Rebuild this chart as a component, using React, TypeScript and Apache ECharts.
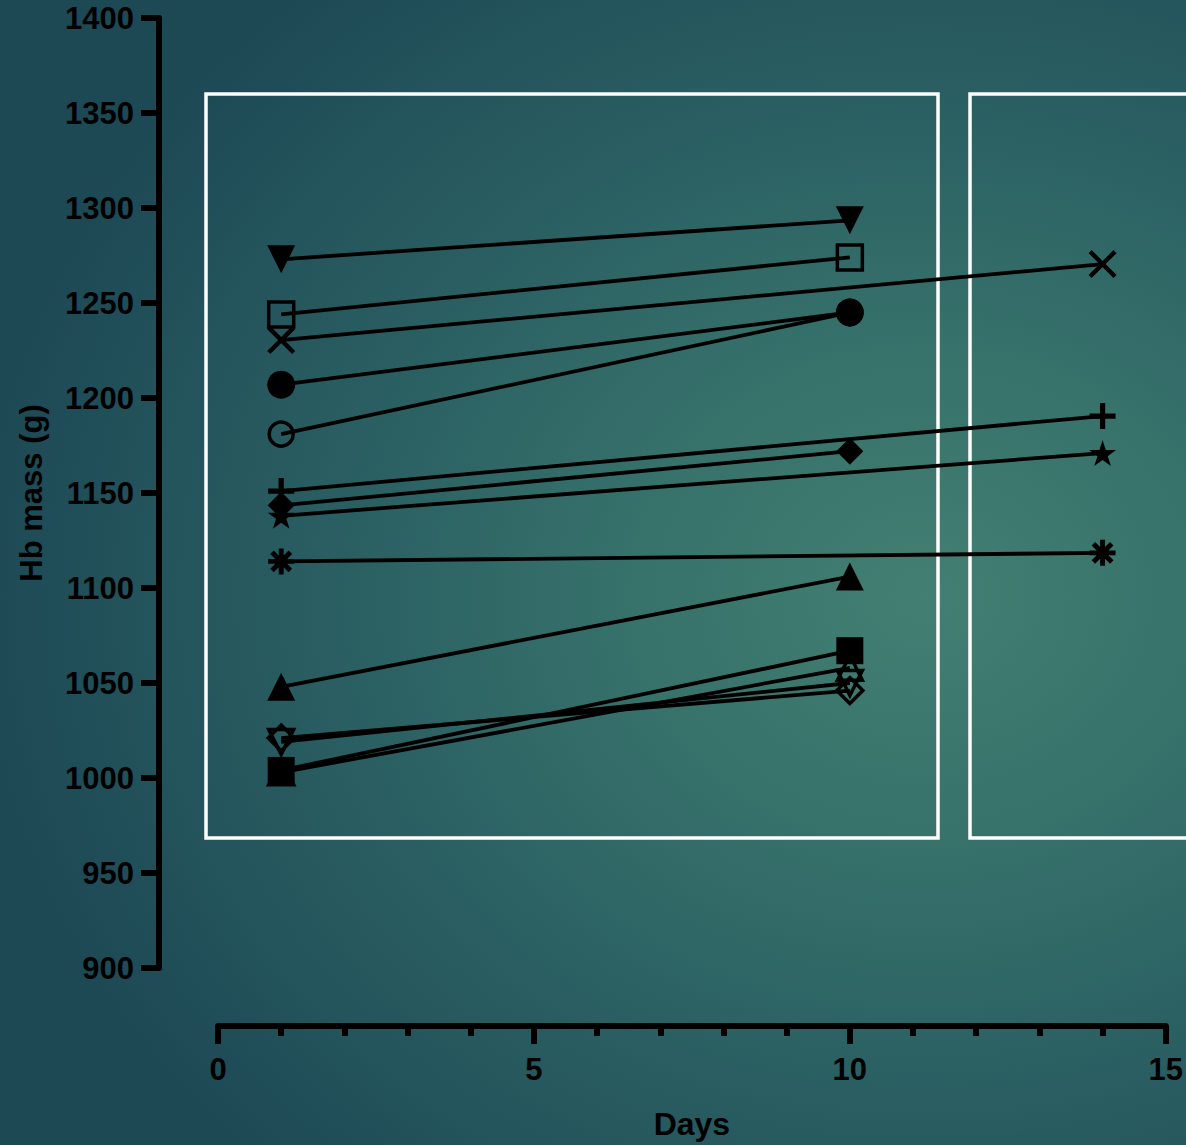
import React, { useEffect, useRef } from "react";
import * as echarts from "echarts";

// ---- data (Days, Hb mass g) ----
const xTicks = [0, 5, 10, 15];
const yTicks = [900, 950, 1000, 1050, 1100, 1150, 1200, 1250, 1300, 1350, 1400];

const downTriFilled = [[1, 1273], [10, 1293.5]];
const squareOpen = [[1, 1244], [10, 1274]];
const crossX = [[1, 1230.5], [14, 1270.5]];
const circleFilled = [[1, 1207], [10, 1245]];
const circleOpen = [[1, 1181], [10, 1245]];
const plusSym = [[1, 1151], [14, 1190.5]];
const diamondFilled = [[1, 1143.5], [10, 1172]];
const starSym = [[1, 1138], [14, 1171]];
const asteriskSym = [[1, 1114], [14, 1118.5]];
const triFilled = [[1, 1048], [10, 1106]];
const squareFilled = [[1, 1004], [10, 1067]];
const triOpen = [[1, 1003], [10, 1058]];
const diamondOpen = [[1, 1021], [10, 1046]];
const downTriOpen = [[1, 1019], [10, 1050]];

// ---- symbol paths ----
const bar = (deg: number, t: number) => {
  const a = (deg * Math.PI) / 180;
  const ux = Math.cos(a), uy = Math.sin(a);
  const vx = -uy, vy = ux;
  const L = 50, T = t / 2;
  const pts = [
    [50 + ux * L + vx * T, 50 + uy * L + vy * T],
    [50 + ux * L - vx * T, 50 + uy * L - vy * T],
    [50 - ux * L - vx * T, 50 - uy * L - vy * T],
    [50 - ux * L + vx * T, 50 - uy * L + vy * T],
  ];
  return "M" + pts.map((p) => p[0].toFixed(2) + "," + p[1].toFixed(2)).join(" L") + " Z";
};
const X_PATH = "path://M0,11 L11,0 L100,89 L89,100 Z M89,0 L100,11 L11,100 L0,89 Z";
const PLUS_PATH = "path://M40,0 L60,0 L60,40 L100,40 L100,60 L60,60 L60,100 L40,100 L40,60 L0,60 L0,40 L40,40 Z";
const STAR_PATH =
  "path://M50,0 L61.17,34.63 L97.55,34.55 L68.07,55.87 L79.39,90.45 L50,69 L20.61,90.45 L31.93,55.87 L2.45,34.55 L38.83,34.63 Z";
const AST_PATH = "path://" + [0, 45, 90, 135].map((d) => bar(d, 19)).join(" ");

const FONT = "'Liberation Sans', Arial, sans-serif";

type Spec = {
  name: string;
  data: number[][];
  symbol: string;
  size: number | number[];
  open?: boolean;
  rotate?: number;
};

const specs: Spec[] = [
  { name: "S1", data: downTriFilled, symbol: "triangle", size: 28, rotate: 180 },
  { name: "S2", data: squareOpen, symbol: "rect", size: 25, open: true },
  { name: "S3", data: crossX, symbol: X_PATH, size: 28 },
  { name: "S4", data: circleFilled, symbol: "circle", size: 28 },
  { name: "S5", data: circleOpen, symbol: "circle", size: 24, open: true },
  { name: "S6", data: plusSym, symbol: PLUS_PATH, size: 26 },
  { name: "S7", data: diamondFilled, symbol: "diamond", size: 27 },
  { name: "S8", data: starSym, symbol: STAR_PATH, size: [27, 26] },
  { name: "S9", data: asteriskSym, symbol: AST_PATH, size: 26 },
  { name: "S10", data: triFilled, symbol: "triangle", size: 28 },
  { name: "S11", data: triOpen, symbol: "triangle", size: 25, open: true },
  { name: "S12", data: squareFilled, symbol: "rect", size: 27 },
  { name: "S13", data: diamondOpen, symbol: "diamond", size: 26, open: true },
  { name: "S14", data: downTriOpen, symbol: "triangle", size: 25, open: true, rotate: 180 },
];

export default function App() {
  const ref = useRef<HTMLDivElement>(null);
  useEffect(() => {
    if (!ref.current) return;
    const chart = echarts.init(ref.current, null, { renderer: "svg" });
    const axisText = { color: "#000", fontFamily: FONT, fontWeight: "bold" as const, fontSize: 31 };
    chart.setOption({
      animation: false,
      backgroundColor: "transparent",
      grid: { left: 218, right: 19, top: 18, bottom: 177 },
      xAxis: {
        type: "value",
        min: xTicks[0],
        max: xTicks[xTicks.length - 1],
        interval: 5,
        offset: 58,
        name: "Days",
        nameLocation: "middle",
        nameGap: 82,
        nameTextStyle: { ...axisText, fontSize: 32 },
        axisLine: { show: true, onZero: false, lineStyle: { color: "#000", width: 6 } },
        axisTick: { show: true, length: 18, lineStyle: { color: "#000", width: 6 } },
        minorTick: { show: true, splitNumber: 5, length: 10, lineStyle: { color: "#000", width: 6 } },
        splitLine: { show: false },
        minorSplitLine: { show: false },
        axisLabel: { ...axisText, margin: 28, formatter: (v: number) => String(v) },
      },
      yAxis: {
        type: "value",
        min: yTicks[0],
        max: yTicks[yTicks.length - 1],
        interval: 50,
        offset: 59,
        name: "Hb mass (g)",
        nameLocation: "middle",
        nameRotate: 90,
        nameGap: 112,
        nameTextStyle: { ...axisText, fontSize: 31 },
        axisLine: { show: true, onZero: false, lineStyle: { color: "#000", width: 6 } },
        axisTick: { show: true, length: 18, lineStyle: { color: "#000", width: 6 } },
        splitLine: { show: false },
        axisLabel: { ...axisText, margin: 25, formatter: (v: number) => String(v) },
      },
      graphic: [
        {
          type: "rect",
          z: 1,
          silent: true,
          shape: { x: 206, y: 94, width: 732, height: 744 },
          style: { fill: "none", stroke: "#fff", lineWidth: 3.5 },
        },
        {
          type: "rect",
          z: 1,
          silent: true,
          shape: { x: 970, y: 94, width: 260, height: 744 },
          style: { fill: "none", stroke: "#fff", lineWidth: 3.5 },
        },
      ],
      series: specs.map((s) => ({
        type: "line",
        name: s.name,
        data: s.data,
        silent: true,
        z: 3,
        symbol: s.symbol,
        symbolSize: s.size,
        symbolRotate: s.rotate || 0,
        showAllSymbol: true,
        lineStyle: { color: "#000", width: 3.8 },
        itemStyle: s.open
          ? { color: "rgba(0,0,0,0)", borderColor: "#000", borderWidth: 3.5 }
          : { color: "#000", borderWidth: 0 },
        emphasis: { disabled: true },
      })),
    });
    return () => chart.dispose();
  }, []);
  return (
    <div
      style={{
        position: "absolute",
        left: 0,
        top: 0,
        width: 1186,
        height: 1145,
        background:
          "radial-gradient(ellipse 80% 70% at 78% 52%, #447f73 0%, #37726b 30%, #2b6063 60%, #1d4955 100%)",
      }}
    >
      <div ref={ref} style={{ width: 1186, height: 1145 }} />
    </div>
  );
}
